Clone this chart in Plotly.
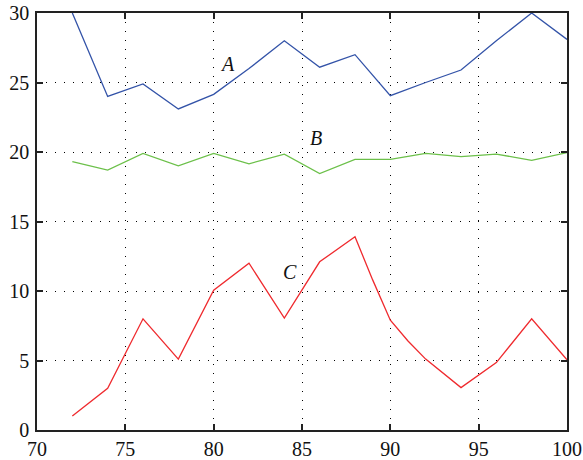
import plotly.graph_objects as go

x_a = [72, 74, 76, 78, 80, 82, 84, 86, 88, 90, 92, 94, 96, 98, 100]
a_vals = [30.0, 24.0, 24.9, 23.1, 24.15, 26.0, 28.0, 26.1, 27.0, 24.05, 25.0, 25.9, 28.0, 30.0, 28.1]

x_b = [72, 74, 76, 78, 80, 82, 84, 86, 88, 90, 92, 94, 96, 98, 100]
b_vals = [19.3, 18.7, 19.9, 19.0, 19.9, 19.15, 19.85, 18.45, 19.47, 19.47, 19.9, 19.67, 19.85, 19.4, 19.95]

x_c = [72, 74, 76, 78, 80, 82, 84, 86, 88, 89, 90, 91, 92, 94, 96, 98, 100]
c_vals = [1.0, 3.0, 8.0, 5.1, 10.05, 12.0, 8.05, 12.1, 13.9, 10.8, 7.9, 6.4, 5.1, 3.05, 4.85, 8.0, 5.05]

labels = ["A", "B", "C"]
label_x = [80.8, 85.8, 84.3]
label_y = [26.3, 21.0, 11.4]

colors = ["#3353a8", "#6cc04a", "#ef2a2e"]

fig = go.Figure()
for xs, ys, col in [(x_a, a_vals, colors[0]), (x_b, b_vals, colors[1]), (x_c, c_vals, colors[2])]:
    fig.add_trace(go.Scatter(x=xs, y=ys, mode="lines", line=dict(color=col, width=1.3),
                             showlegend=False, hoverinfo="skip"))

for t, lx, ly in zip(labels, label_x, label_y):
    fig.add_annotation(x=lx, y=ly, text="<i>" + t + "</i>", showarrow=False,
                       font=dict(family="Liberation Serif", size=20, color="#111"))

axis_common = dict(
    showline=True, linecolor="#222", linewidth=1.5, mirror="ticks",
    ticks="inside", ticklen=6, tickwidth=1.5, tickcolor="#222",
    showgrid=True, gridcolor="black", gridwidth=1, griddash="1px,8px",
    zeroline=False, automargin=False,
    tickfont=dict(family="Liberation Serif", size=20, color="#111"),
)

fig.update_xaxes(range=[70, 100], dtick=5, tick0=70, ticklabelstandoff=0, **axis_common)
fig.update_yaxes(range=[0, 30], dtick=5, tick0=0, ticklabelstandoff=2, **axis_common)

fig.update_layout(
    width=583, height=460,
    margin=dict(l=37, r=16, t=13, b=30),
    plot_bgcolor="white", paper_bgcolor="white",
    font=dict(family="Liberation Serif"),
)

fig.write_html("out.html", config={"displayModeBar": False},
               post_script="document.body.style.margin='0';document.body.style.overflow='hidden';")
